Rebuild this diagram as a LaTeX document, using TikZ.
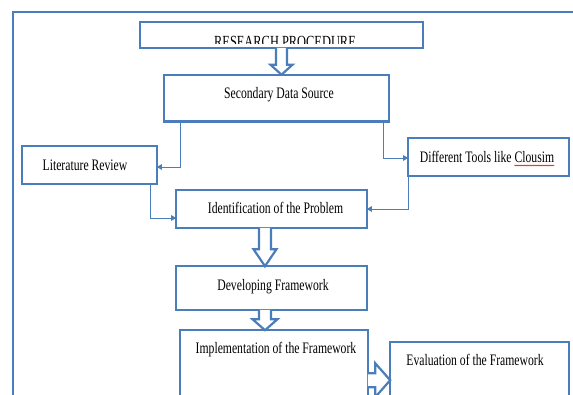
\documentclass[tikz,border=0pt]{standalone}
\usepackage{fontspec}
\setmainfont[FakeStretch=0.73]{Liberation Serif}
\usetikzlibrary{arrows.meta,calc,decorations.pathmorphing}
\definecolor{bord}{RGB}{74,126,187}
\newcommand{\hollowdown}[5]{%
  \draw[harrow] let \p1=#1, \p2=#2 in
   (\x1-#3,\y1) -- (\x1-#3,\y2+#5) -- (\x1-#4,\y2+#5) -- (\x1,\y2)
   -- (\x1+#4,\y2+#5) -- (\x1+#3,\y2+#5) -- (\x1+#3,\y1);}
\newcommand{\hollowright}[5]{%
  \draw[harrow] let \p1=#1, \p2=#2 in
   (\x1,\y1+#3) -- (\x2-#5,\y1+#3) -- (\x2-#5,\y1+#4) -- (\x2,\y1)
   -- (\x2-#5,\y1-#4) -- (\x2-#5,\y1-#3) -- (\x1,\y1-#3);}
\begin{document}
\begin{tikzpicture}[x=1pt,y=-1pt,
  box/.style={draw=bord,line width=2.4pt,fill=white,inner sep=0pt,outer sep=0pt,rectangle},
  frame/.style={draw=bord,line width=2pt,inner sep=0pt,rectangle},
  txt/.style={inner sep=0pt,anchor=base,font=\fontsize{16}{18}\selectfont},
  conn/.style={draw=bord,line width=0.9pt,-{Triangle[length=5pt,width=5.5pt]}},
  harrow/.style={draw=bord,line width=2.2pt,fill=white,line join=miter}]
\useasboundingbox (0,0) rectangle (573,394);
\clip (0,0) rectangle (573,394);
\fill[white] (0,0) rectangle (573,394);
% outer frame (open to the right and bottom)
\node[frame,minimum width=607pt,minimum height=418pt] (outer) at (316.5,221) {};
% boxes
\node[box,minimum width=282.6pt,minimum height=25.6pt] (rp) at (281.5,35) {};
\node[box,minimum width=224.6pt,minimum height=46.6pt] (sds) at (276.5,98) {};
\node[box,minimum width=134.6pt,minimum height=37.6pt] (lit) at (89.5,165) {};
\node[box,minimum width=160.6pt,minimum height=37.6pt] (dtl) at (488.5,157) {};
\node[box,minimum width=190.6pt,minimum height=37.6pt] (idp) at (271.5,209) {};
\node[box,minimum width=190.6pt,minimum height=43.6pt] (dev) at (271.5,288) {};
\node[box,minimum width=187.6pt,minimum height=98.6pt] (imp) at (274,379.5) {};
\node[box,minimum width=178.6pt,minimum height=86.6pt] (eva) at (479.5,385.5) {};
% texts
\begin{scope}
\clip (139,21) rectangle (424,43);
\node[txt,font=\fontsize{17}{19}\selectfont] (rpt) at (285,47) {RESEARCH PROCEDURE};
\end{scope}
\node[txt] (sdst) at (279,98) {Secondary Data Source};
\node[txt] (litt) at (85,170) {Literature Review};
\node[txt] (dtlt) at (487,162) {Different Tools like Clousim};
\node[txt] (idpt) at (275.5,213) {Identification of the Problem};
\node[txt] (devt) at (273,290) {Developing Framework};
\node[txt] (impt) at (276,353) {Implementation of the Framework};
\node[txt] (evat) at (475,365) {Evaluation of the Framework};
\draw[red,line width=0.5pt,decorate,decoration={snake,amplitude=0.6pt,segment length=2pt}]
  ([xshift=-40pt,yshift=-3.5pt]dtlt.base east) -- ([yshift=-3.5pt]dtlt.base east);
% thin connectors
\draw[conn] ([xshift=16pt]sds.south west) |- ([yshift=-2pt]lit.east);
\draw[conn] ([xshift=-5pt]sds.south east) |- ([yshift=-1pt]dtl.west);
\draw[conn] ([xshift=-6pt]lit.south east) |- ([yshift=-9pt]idp.west);
\draw[conn] (dtl.south west) |- (idp.east);
% hollow block arrows
\hollowdown{(rp.south)}{(sds.north)}{5.5pt}{11pt}{10pt}
\hollowdown{([xshift=-6.5pt]idp.south)}{(dev.north)}{6pt}{11.5pt}{17pt}
\hollowdown{([xshift=-6.5pt]dev.south)}{(imp.north)}{6pt}{12.5pt}{11pt}
\hollowright{([yshift=-50pt]imp.north east)}{(eva.west)}{7pt}{17pt}{15pt}
\end{tikzpicture}
\end{document}
